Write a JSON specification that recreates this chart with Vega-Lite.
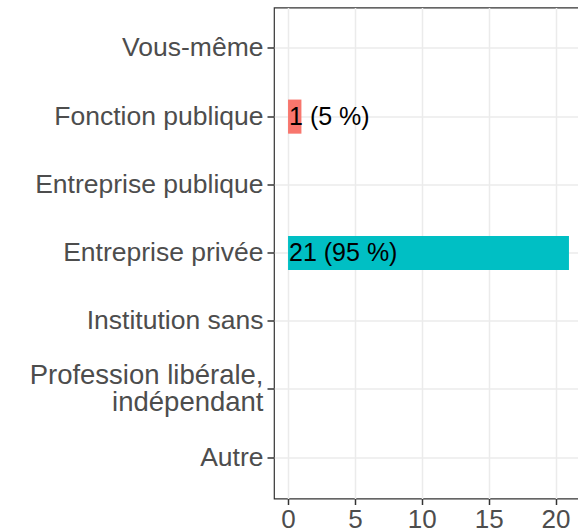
{
  "$schema": "https://vega.github.io/schema/vega-lite/v6.json",
  "width": 309,
  "height": 491,
  "autosize": {"type": "none"},
  "padding": {"left": 274, "top": 7.5, "right": 0, "bottom": 32},
  "config": {
    "font": "Liberation Sans",
    "view": {"stroke": "#333333", "strokeWidth": 1.2}
  },
  "data": {
    "values": [
      {"categorie": "Vous-même", "n": 0, "etiquette": ""},
      {"categorie": "Fonction publique", "n": 1, "etiquette": "1 (5 %)"},
      {"categorie": "Entreprise publique", "n": 0, "etiquette": ""},
      {"categorie": "Entreprise privée", "n": 21, "etiquette": "21 (95 %)"},
      {"categorie": "Institution sans", "n": 0, "etiquette": ""},
      {"categorie": "Profession libérale, indépendant", "n": 0, "etiquette": ""},
      {"categorie": "Autre", "n": 0, "etiquette": ""}
    ]
  },
  "encoding": {
    "y": {
      "field": "categorie",
      "type": "nominal",
      "sort": null,
      "scale": {
        "domain": ["Vous-même", "Fonction publique", "Entreprise publique", "Entreprise privée", "Institution sans", "Profession libérale, indépendant", "Autre"],
        "paddingInner": 0.5,
        "paddingOuter": 0.35
      },
      "axis": {
        "title": null,
        "domain": false,
        "grid": true,
        "gridColor": "#EBEBEB",
        "gridWidth": 1.5,
        "bandPosition": 0.5,
        "tickSize": 7,
        "tickWidth": 1.5,
        "tickColor": "#333333",
        "labelFontSize": {"condition": {"test": "datum.value == 'Profession libérale, indépendant'", "value": 27.5}, "value": 26.5},
        "labelColor": "#4D4D4D",
        "labelPadding": 4,
        "labelLimit": 0,
        "labelLineHeight": 27,
        "labelOffset": {"condition": {"test": "datum.value == 'Profession libérale, indépendant'", "value": -13.5}, "value": 0},
        "labelExpr": "datum.label == 'Profession libérale, indépendant' ? ['Profession libérale,', 'indépendant'] : datum.label"
      }
    }
  },
  "layer": [
    {
      "transform": [{"filter": "datum.n > 0"}],
      "mark": {"type": "bar"},
      "encoding": {
        "x": {
          "field": "n",
          "type": "quantitative",
          "scale": {"domain": [-1.05, 22.05], "nice": false, "zero": false},
          "axis": {
            "title": null,
            "domain": false,
            "values": [0, 2.5, 5, 7.5, 10, 12.5, 15, 17.5, 20],
            "grid": true,
            "gridColor": "#EBEBEB",
            "gridWidth": {"condition": {"test": "datum.value % 5 !== 0", "value": 0.9}, "value": 1.5},
            "tickSize": 6,
            "tickWidth": 1.5,
            "tickColor": "#333333",
            "tickOpacity": {"condition": {"test": "datum.value % 5 !== 0", "value": 0}, "value": 1},
            "labelExpr": "datum.value % 5 === 0 ? datum.label : ''",
            "labelFontSize": 26,
            "labelColor": "#4D4D4D",
            "labelPadding": 2,
            "labelFlush": false
          }
        },
        "x2": {"datum": 0},
        "color": {
          "field": "categorie",
          "type": "nominal",
          "scale": {"domain": ["Fonction publique", "Entreprise privée"], "range": ["#F8766D", "#00BFC4"]},
          "legend": null
        }
      }
    },
    {
      "transform": [{"filter": "datum.n > 0"}],
      "mark": {"type": "text", "align": "left", "baseline": "middle", "fontSize": 25, "color": "#000000", "dx": 1},
      "encoding": {
        "x": {"datum": 0, "type": "quantitative"},
        "text": {"field": "etiquette"}
      }
    }
  ]
}
